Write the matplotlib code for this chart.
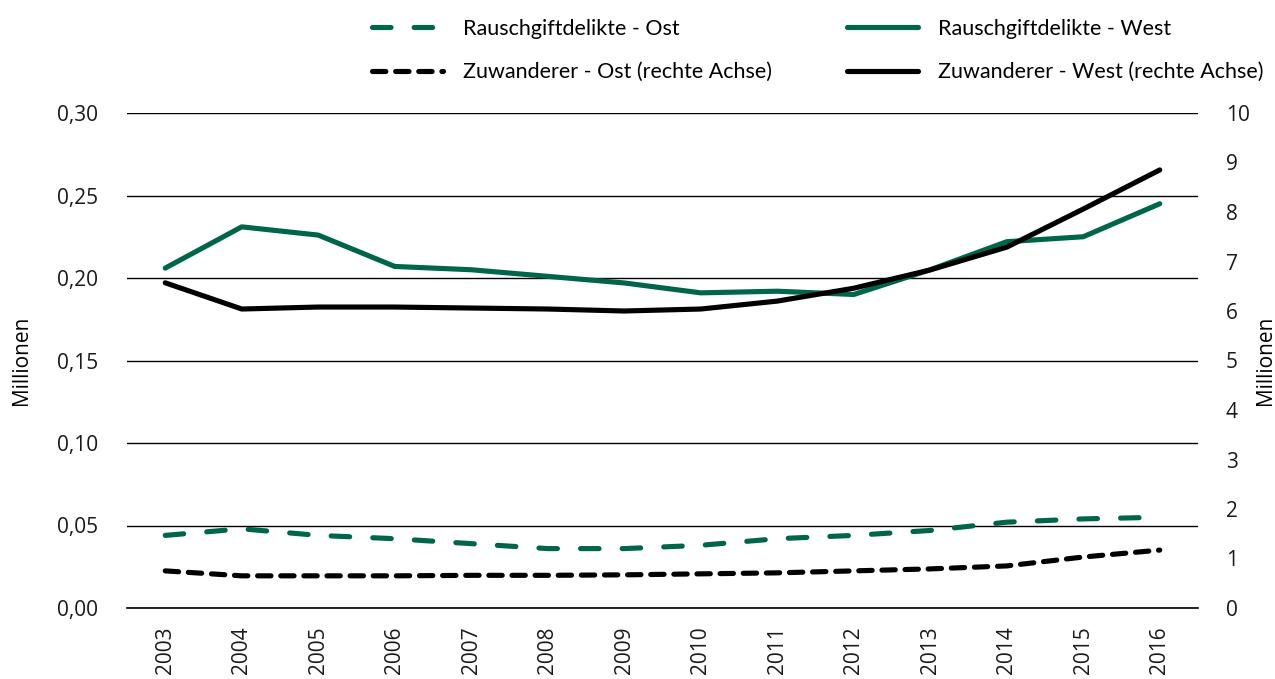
import numpy as np
import matplotlib.pyplot as plt
from matplotlib.ticker import FuncFormatter

# Data (values in Millionen)
years = [str(y) for y in range(2003, 2017)]
rausch_west = [0.206, 0.231, 0.226, 0.207, 0.205, 0.201, 0.197, 0.191, 0.192, 0.190, 0.205, 0.222, 0.225, 0.245]
rausch_ost = [0.044, 0.048, 0.044, 0.042, 0.039, 0.036, 0.036, 0.038, 0.042, 0.044, 0.047, 0.052, 0.054, 0.055]
zuw_west = [6.57, 6.04, 6.08, 6.08, 6.06, 6.04, 6.00, 6.04, 6.20, 6.46, 6.83, 7.29, 8.06, 8.85]
zuw_ost = [0.75, 0.65, 0.65, 0.65, 0.66, 0.66, 0.67, 0.69, 0.71, 0.75, 0.79, 0.85, 1.03, 1.17]

green = '#00664a'
plt.rcParams['font.family'] = ['Open Sans', 'DejaVu Sans']

W, H = 1275, 679
fig = plt.figure(figsize=(W / 100, H / 100), dpi=100)
ax = fig.add_axes([127 / W, 1 - 608 / H, (1198 - 127) / W, (608 - 113) / H])
ax2 = ax.twinx()

x = np.arange(len(years))
lw = 3.7
l1, = ax.plot(x, rausch_ost, color=green, lw=lw, ls=(0, (3.6, 4.5)), dash_capstyle='round',
              label='Rauschgiftdelikte - Ost', zorder=3)
l2, = ax.plot(x, rausch_west, color=green, lw=lw, solid_capstyle='round',
              label='Rauschgiftdelikte - West', zorder=3)
l3, = ax2.plot(x, zuw_ost, color='black', lw=lw, ls=(0, (2.6, 1.9)), dash_capstyle='round',
               label='Zuwanderer - Ost (rechte Achse)', zorder=3)
l4, = ax2.plot(x, zuw_west, color='black', lw=lw, solid_capstyle='round',
               label='Zuwanderer - West (rechte Achse)', zorder=3)

ax.set_xlim(-0.5, len(years) - 0.5)
ax.set_ylim(0, 0.30)
ax2.set_ylim(0, 10)
ax.set_yticks(np.arange(0, 0.301, 0.05))
ax2.set_yticks(range(0, 11))
ax.yaxis.set_major_formatter(FuncFormatter(lambda v, p: f"{v:.2f}".replace('.', ',')))
ax.set_xticks(x)
ax.set_xticklabels(years, rotation=90)

ax.grid(axis='y', color='black', lw=1)
ax.axhline(0, color='black', lw=1.2, clip_on=False, zorder=1)
ax.set_axisbelow(True)
for a in (ax, ax2):
    for s in a.spines.values():
        s.set_visible(False)
    a.tick_params(length=0, labelsize=15, colors='#1a1a1a')
ax.tick_params(axis='y', pad=21)
ax.tick_params(axis='x', pad=13)
ax2.tick_params(axis='y', pad=20)

ax.set_ylabel('Millionen', fontsize=15, labelpad=18)
ax2.set_ylabel('Millionen', fontsize=15, labelpad=4)

leg_kw = dict(loc='upper left', frameon=False, prop={'family': ['Lato', 'DejaVu Sans'], 'size': 15.5},
              handlelength=3.3, handletextpad=0.95, labelspacing=1.08, borderpad=0, borderaxespad=0)
leg1 = fig.legend(handles=[l1, l3], bbox_to_anchor=(372 / W, 1 - 19 / H), **leg_kw)
leg2 = fig.legend(handles=[l2, l4], bbox_to_anchor=(847 / W, 1 - 19 / H), **leg_kw)

fig.savefig('out.png', dpi=100)
